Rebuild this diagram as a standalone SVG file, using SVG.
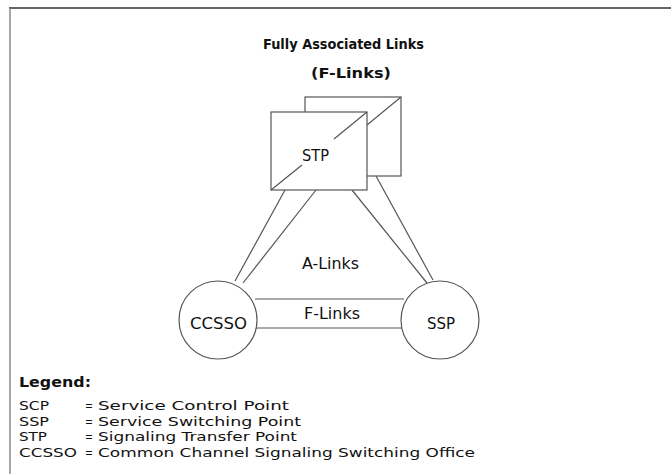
<svg xmlns="http://www.w3.org/2000/svg" width="671" height="474" viewBox="0 0 671 474">
<style>
.ln{stroke:#555;stroke-width:1.2;fill:none}
.nd{stroke:#555;stroke-width:1.2;fill:#fff}
.t{font-family:"DejaVu Sans",sans-serif;font-size:15px;fill:#111}
.s{font-family:"DejaVu Sans",sans-serif;font-size:13px;fill:#111}
.b{font-family:"DejaVu Sans",sans-serif;font-size:14.5px;font-weight:bold;fill:#111}
</style>
<rect width="671" height="474" fill="#fff"/>
<g id="frame">
<line x1="9" y1="8" x2="671" y2="8" stroke="#666" stroke-width="2"/>
<line x1="10" y1="8" x2="10" y2="474" stroke="#888" stroke-width="1.5"/>
</g>
<g id="title">
<text class="b" x="263" y="49" textLength="161" lengthAdjust="spacingAndGlyphs">Fully Associated Links</text>
<text class="b" x="311" y="78" textLength="80" lengthAdjust="spacingAndGlyphs">(F-Links)</text>
</g>
<g id="connectors">
<line class="ln" x1="285" y1="190" x2="235" y2="281"/>
<line class="ln" x1="316" y1="190" x2="243" y2="283"/>
<line class="ln" x1="352" y1="190" x2="427" y2="283"/>
<line class="ln" x1="376" y1="176" x2="433" y2="280"/>
<line class="ln" x1="255" y1="299" x2="404" y2="299"/>
<line class="ln" x1="255" y1="328" x2="404" y2="328"/>
<text class="t" x="302" y="269" textLength="57" lengthAdjust="spacingAndGlyphs">A-Links</text>
<text class="t" x="304" y="319" textLength="56" lengthAdjust="spacingAndGlyphs">F-Links</text>
</g>
<g id="stp">
<rect class="nd" x="305" y="97" width="96" height="79"/>
<line class="ln" x1="401" y1="97" x2="367" y2="125"/>
<rect class="nd" x="271" y="112" width="96" height="78"/>
<line class="ln" x1="271" y1="190" x2="302" y2="165"/>
<line class="ln" x1="334" y1="139" x2="367" y2="112"/>
<text class="t" x="302" y="161" textLength="27" lengthAdjust="spacingAndGlyphs">STP</text>
</g>
<g id="ccsso">
<circle class="nd" cx="218" cy="320" r="39"/>
<text class="t" x="190" y="329" textLength="57" lengthAdjust="spacingAndGlyphs">CCSSO</text>
</g>
<g id="ssp">
<circle class="nd" cx="440" cy="320" r="39"/>
<text class="t" x="427" y="329" textLength="28" lengthAdjust="spacingAndGlyphs">SSP</text>
</g>
<g id="legend">
<text class="b" x="19" y="387" textLength="72" lengthAdjust="spacingAndGlyphs">Legend:</text>
<text class="s" x="19" y="410" textLength="30" lengthAdjust="spacingAndGlyphs">SCP</text><text class="s" x="85" y="410" textLength="8" lengthAdjust="spacingAndGlyphs">=</text><text class="s" x="98" y="410" textLength="191" lengthAdjust="spacingAndGlyphs">Service Control Point</text>
<text class="s" x="19" y="425.7" textLength="30" lengthAdjust="spacingAndGlyphs">SSP</text><text class="s" x="85" y="425.7" textLength="8" lengthAdjust="spacingAndGlyphs">=</text><text class="s" x="98" y="425.7" textLength="203" lengthAdjust="spacingAndGlyphs">Service Switching Point</text>
<text class="s" x="19" y="441.3" textLength="28" lengthAdjust="spacingAndGlyphs">STP</text><text class="s" x="85" y="441.3" textLength="8" lengthAdjust="spacingAndGlyphs">=</text><text class="s" x="98" y="441.3" textLength="199" lengthAdjust="spacingAndGlyphs">Signaling Transfer Point</text>
<text class="s" x="19" y="457" textLength="58" lengthAdjust="spacingAndGlyphs">CCSSO</text><text class="s" x="85" y="457" textLength="8" lengthAdjust="spacingAndGlyphs">=</text><text class="s" x="98" y="457" textLength="377" lengthAdjust="spacingAndGlyphs">Common Channel Signaling Switching Office</text>
</g>
</svg>
